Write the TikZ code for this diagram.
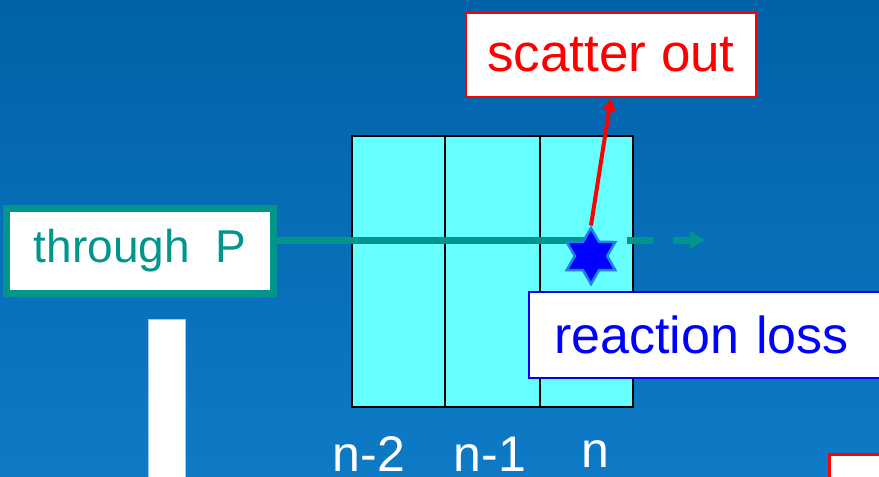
\documentclass[tikz,border=0pt]{standalone}
\usepackage{fontspec}
\setmainfont{Liberation Sans}
\definecolor{bgtop}{RGB}{0,98,168}
\definecolor{bgbot}{RGB}{14,122,198}
\definecolor{slabcol}{RGB}{102,255,255}
\definecolor{beamcol}{RGB}{0,150,140}
\definecolor{rimcol}{RGB}{30,130,230}
\usetikzlibrary{shapes.geometric, arrows.meta, positioning}

\begin{document}
\begin{tikzpicture}[x=1pt, y=-1pt,
  labelbox/.style={draw, fill=white, inner sep=0pt,
    font=\fontsize{50}{60}\selectfont},
  slab/.style={draw=black, line width=2pt, fill=slabcol,
    minimum height=271pt, inner sep=0pt, anchor=north west}]

  % Background
  \shade[top color=bgtop, bottom color=bgbot] (0,0) rectangle (879,477);
  \useasboundingbox (0,0) rectangle (879,477);
  \clip (0,0) rectangle (879,477);

  % Slabs
  \foreach \nm/\xl/\w in {n2/351/93, n1/444/95, n0/539/93} {
    \node[slab, minimum width=\w pt] (\nm) at (\xl,135) {};
  }

  % Slab labels
  \foreach \nm/\txt/\xc in {n2/n-2/369, n1/n-1/490, n0/n/595} {
    \node[white, font=\fontsize{50}{60}\selectfont] (lab\nm) at (\xc,454) {\txt};
  }

  % Left boxes
  \node[labelbox, draw=beamcol, text=beamcol, line width=7pt,
    font=\fontsize{46}{56}\selectfont,
    minimum width=267pt, minimum height=85pt] (through) at (140,251)
    {through\ \ P};
  \fill[white, draw=white!60!bgbot, line width=1pt] (148,319) rectangle (185,490);

  % Beam
  \coordinate (hitpt) at (590,240);
  \coordinate (beamout) at (627,240);
  \coordinate (beamgo) at (705,240);
  \draw[beamcol, line width=7pt] (through.east |- hitpt) -- (hitpt);
  \draw[beamcol, line width=7pt, dash pattern=on 26pt off 20pt,
    -{Triangle[length=15pt, width=17pt]}] (beamout) -- (beamgo);

  % Interaction point
  \node[star, star points=6, star point ratio=1.73, minimum size=56pt,
    inner sep=0pt, fill=blue, draw=rimcol, line width=2.5pt] (hit) at (591,256) {};

  % Outcomes
  \node[labelbox, draw=red, text=red, line width=2pt, font=\fontsize{53}{60}\selectfont,
    minimum width=290pt, minimum height=84pt] (scatter) at (611,55) {scatter out};
  \draw[red, line width=4pt, -{Triangle[length=13pt, width=13pt]}]
    (hit.north) -- (scatter.south);
  \node[labelbox, draw=blue, text=blue, line width=2pt, anchor=north west,
    font=\fontsize{52}{60}\selectfont, text width=330pt, inner xsep=25pt,
    minimum height=86pt, align=left] (react) at (528,291) {reaction loss};

  % Next box, cut off
  \filldraw[fill=white, draw=red, line width=3pt] (829,454) rectangle (900,500);

\end{tikzpicture}
\end{document}
